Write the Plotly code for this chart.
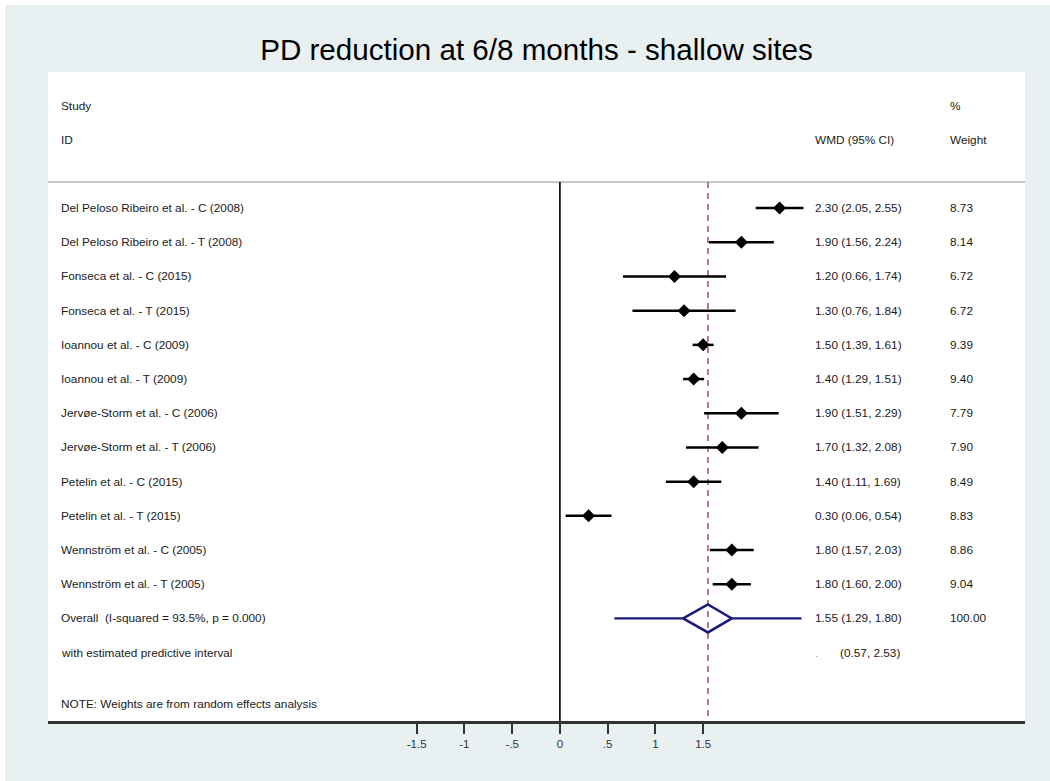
import plotly.graph_objects as go

# ---- data ----
studies = [
    "Del Peloso Ribeiro et al. - C (2008)",
    "Del Peloso Ribeiro et al. - T (2008)",
    "Fonseca et al. - C (2015)",
    "Fonseca et al. - T (2015)",
    "Ioannou et al. - C (2009)",
    "Ioannou et al. - T (2009)",
    "Jervøe-Storm et al. - C (2006)",
    "Jervøe-Storm et al. - T (2006)",
    "Petelin et al. - C (2015)",
    "Petelin et al. - T (2015)",
    "Wennström et al. - C (2005)",
    "Wennström et al. - T (2005)",
]
wmd = [2.30, 1.90, 1.20, 1.30, 1.50, 1.40, 1.90, 1.70, 1.40, 0.30, 1.80, 1.80]
ci_low = [2.05, 1.56, 0.66, 0.76, 1.39, 1.29, 1.51, 1.32, 1.11, 0.06, 1.57, 1.60]
ci_high = [2.55, 2.24, 1.74, 1.84, 1.61, 1.51, 2.29, 2.08, 1.69, 0.54, 2.03, 2.00]
weights = [8.73, 8.14, 6.72, 6.72, 9.39, 9.40, 7.79, 7.90, 8.49, 8.83, 8.86, 9.04]
overall_label = "Overall  (I-squared = 93.5%, p = 0.000)"
overall_est = 1.55
overall_ci = [1.29, 1.80]
overall_weight = 100.00
pred_label = "with estimated predictive interval"
pred_int = [0.57, 2.53]
tick_vals = [-1.5, -1, -0.5, 0, 0.5, 1, 1.5]
tick_text = ["-1.5", "-1", "-.5", "0", ".5", "1", "1.5"]
title = "PD reduction at 6/8 months - shallow sites"
note = "NOTE: Weights are from random effects analysis"

# ---- layout constants ----
FONT = "Arial, Liberation Sans, sans-serif"
BG = "#e8f0f2"
TXT = "#1a1a1a"
FS = 11.8
X_LABEL = -5.246
X_WMD = 2.65
X_WMD_PRED = 2.91
X_WT = 4.063
X_RANGE = [-5.36, 4.87]
Y_RANGE = [15.0, -3.98]
n = len(studies)
rows = list(range(n))
row_overall = n
row_pred = n + 1
row_note = n + 2.5
sep_y = -0.76

fig = go.Figure()

# background with thin white strip at top/left, then white plot panel
fig.add_shape(type="rect", xref="paper", yref="paper",
              x0=(5 - 48) / 977, x1=(1050 - 48) / 977,
              y0=(721 - 781) / 649, y1=(721 - 5) / 649,
              fillcolor=BG, line=dict(width=0), layer="below")
fig.add_shape(type="rect", xref="paper", yref="paper", x0=0, x1=1, y0=0, y1=1,
              fillcolor="white", line=dict(width=0), layer="below")

# reference lines
fig.add_shape(type="line", xref="x", yref="y", x0=0, x1=0, y0=sep_y, y1=Y_RANGE[0],
              line=dict(color="black", width=1.6), layer="below")
fig.add_shape(type="line", xref="x", yref="y", x0=overall_est, x1=overall_est,
              y0=sep_y, y1=Y_RANGE[0],
              line=dict(color="#a8434f", width=1.4, dash="6px,5px"), layer="below")
fig.add_shape(type="line", xref="paper", yref="y", x0=0, x1=1, y0=sep_y, y1=sep_y,
              line=dict(color="#c8c8c8", width=2), layer="below")

# CI lines for studies
xs, ys = [], []
for i in rows:
    xs += [ci_low[i], ci_high[i], None]
    ys += [i, i, None]
fig.add_trace(go.Scatter(x=xs, y=ys, mode="lines",
                         line=dict(color="black", width=2.5),
                         hoverinfo="skip", showlegend=False))
fig.add_trace(go.Scatter(x=wmd, y=rows, mode="markers",
                         marker=dict(symbol="diamond", size=10, color="black"),
                         showlegend=False))

# predictive interval + overall diamond
navy = "#1b1b7d"
h = 0.41
fig.add_trace(go.Scatter(
    x=[pred_int[0], overall_ci[0], None, overall_ci[1], pred_int[1]],
    y=[row_overall, row_overall, None, row_overall, row_overall],
    mode="lines", line=dict(color=navy, width=2.2), showlegend=False, hoverinfo="skip"))
fig.add_trace(go.Scatter(
    x=[overall_ci[0], overall_est, overall_ci[1], overall_est, overall_ci[0]],
    y=[row_overall, row_overall - h, row_overall, row_overall + h, row_overall],
    mode="lines", line=dict(color=navy, width=2.5), showlegend=False, hoverinfo="skip"))


def txt(x, y, s, color=TXT):
    fig.add_annotation(x=x, y=y, xref="x", yref="y", text=s, showarrow=False,
                       xanchor="left", yanchor="middle",
                       font=dict(family=FONT, size=FS, color=color))


# headers
txt(X_LABEL, -3, "Study")
txt(X_LABEL, -2, "ID")
txt(X_WMD, -2, "WMD (95% CI)")
txt(X_WT, -3, "%")
txt(X_WT, -2, "Weight")

for i in rows:
    txt(X_LABEL, i, studies[i])
    txt(X_WMD, i, f"{wmd[i]:.2f} ({ci_low[i]:.2f}, {ci_high[i]:.2f})")
    txt(X_WT, i, f"{weights[i]:.2f}")

txt(X_LABEL, row_overall, overall_label)
txt(X_WMD, row_overall, f"{overall_est:.2f} ({overall_ci[0]:.2f}, {overall_ci[1]:.2f})")
txt(X_WT, row_overall, f"{overall_weight:.2f}")
txt(X_LABEL, row_pred, pred_label)
txt(X_WMD, row_pred, ".", color="#999999")
txt(X_WMD_PRED, row_pred, f"({pred_int[0]:.2f}, {pred_int[1]:.2f})")
txt(X_LABEL, row_note, note)

fig.update_layout(
    width=1050, height=781,
    margin=dict(l=48, r=25, t=72, b=60),
    paper_bgcolor="white", plot_bgcolor="white",
    title=dict(text=title, x=(48 + 1025) / 2 / 1050, xanchor="center",
               y=1 - 50 / 781, yanchor="middle",
               font=dict(family=FONT, size=29.6, color="black")),
    xaxis=dict(range=X_RANGE, tickvals=tick_vals, ticktext=tick_text,
               showgrid=False, zeroline=False, showline=True,
               linecolor="#333333", linewidth=2.5,
               ticks="outside", ticklen=10, tickwidth=2, tickcolor="#333333",
               tickfont=dict(family=FONT, size=11.5, color="#333333")),
    yaxis=dict(range=Y_RANGE, showgrid=False, zeroline=False, showticklabels=False,
               showline=False),
    font=dict(family=FONT),
)

fig.write_html("out.html")
